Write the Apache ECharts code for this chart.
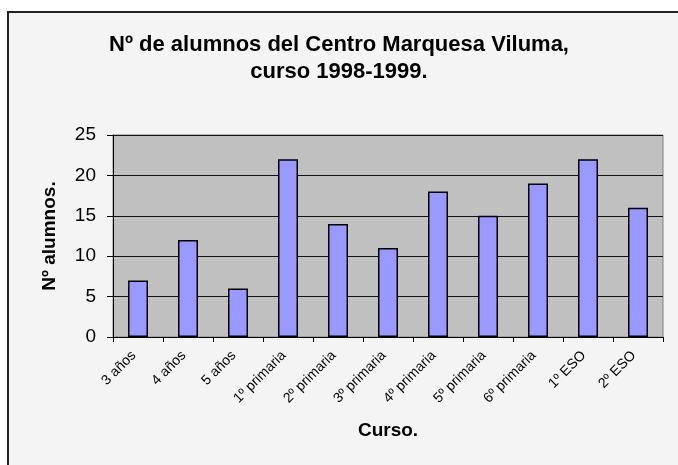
<!DOCTYPE html>
<html>
<head>
<meta charset="utf-8">
<script src="https://cdn.jsdelivr.net/npm/echarts@6/dist/echarts.min.js"></script>
<style>
  html, body { margin: 0; padding: 0; background: #fff; }
  #chart { width: 678px; height: 465px; }
</style>
</head>
<body>
<div id="chart"></div>
<script>
// datos
const cursos = ['3 años', '4 años', '5 años', '1º primaria', '2º primaria', '3º primaria',
  '4º primaria', '5º primaria', '6º primaria', '1º ESO', '2º ESO'];
const alumnos = [7, 12, 6, 22, 14, 11, 18, 15, 19, 22, 16];
const yTicks = [0, 5, 10, 15, 20, 25];

const chart = echarts.init(document.getElementById('chart'));

chart.setOption({
  animation: false,
  backgroundColor: '#ffffff',
  graphic: [{
    type: 'rect',
    z: -10,
    shape: { x: 8, y: 12, width: 700, height: 500 },
    style: { fill: '#f4f4f4', stroke: '#222', lineWidth: 2 }
  }],
  title: {
    text: 'Nº de alumnos del Centro Marquesa Viluma,\ncurso 1998-1999.',
    left: 'center',
    top: 26,
    textStyle: {
      fontFamily: 'Liberation Sans, Arial',
      fontSize: 22,
      fontWeight: 'bold',
      color: '#000',
      lineHeight: 27
    }
  },
  grid: {
    left: 113,
    right: 15,
    top: 135,
    bottom: 128,
    show: true,
    backgroundColor: '#c0c0c0',
    borderColor: '#808080',
    borderWidth: 1
  },
  xAxis: {
    type: 'category',
    data: cursos,
    name: 'Curso.',
    nameLocation: 'middle',
    nameGap: 84,
    nameTextStyle: {
      fontFamily: 'Liberation Sans, Arial',
      fontSize: 19,
      fontWeight: 'bold',
      color: '#000'
    },
    axisLine: { lineStyle: { color: '#000', width: 1 } },
    axisTick: { show: true, length: 5, lineStyle: { color: '#000' } },
    axisLabel: {
      rotate: 45,
      fontFamily: 'Liberation Sans, Arial',
      fontSize: 14,
      color: '#000',
      margin: 12,
      padding: [0, 6, 0, 0]
    }
  },
  yAxis: {
    type: 'value',
    min: 0,
    max: 25,
    interval: 5,
    name: 'Nº alumnos.',
    nameLocation: 'middle',
    nameGap: 54,
    nameTextStyle: {
      fontFamily: 'Liberation Sans, Arial',
      fontSize: 19,
      fontWeight: 'bold',
      color: '#000'
    },
    axisLine: { show: true, lineStyle: { color: '#000', width: 1 } },
    axisTick: { show: true, length: 6, lineStyle: { color: '#000' } },
    splitLine: { lineStyle: { color: '#111', width: 1 } },
    axisLabel: {
      fontFamily: 'Liberation Sans, Arial',
      fontSize: 19,
      color: '#000',
      margin: 17,
      formatter: v => yTicks.includes(v) ? String(v) : ''
    }
  },
  series: [{
    type: 'bar',
    data: alumnos,
    barWidth: 20,
    itemStyle: {
      color: '#9999ff',
      borderColor: '#000',
      borderWidth: 1.5
    }
  }]
});
</script>
</body>
</html>
